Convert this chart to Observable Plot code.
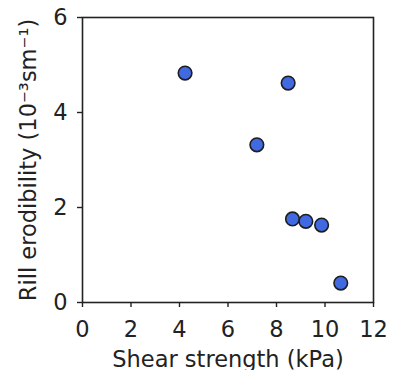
<!DOCTYPE html>
<html>
<head>
<meta charset="utf-8">
<script src="https://cdn.jsdelivr.net/npm/d3@7"></script>
<script src="https://cdn.jsdelivr.net/npm/@observablehq/plot@0.6"></script>
<style>
  html, body { margin: 0; padding: 0; background: #fff; }
  #chart svg { display: block; }
</style>
</head>
<body>
<div id="chart"></div>
<script>
const shearStrength = [4.23, 8.48, 7.19, 8.66, 9.21, 9.86, 10.65];
const rillErodibility = [4.83, 4.62, 3.32, 1.76, 1.71, 1.63, 0.41];
const xTicks = [0, 2, 4, 6, 8, 10, 12];
const yTicks = [0, 2, 4, 6];
const xLabel = "Shear strength (kPa)";
const yLabel = "Rill erodibility (10⁻³sm⁻¹)";

const data = shearStrength.map((x, i) => ({x, y: rillErodibility[i]}));

const chart = Plot.plot({
  width: 393,
  height: 370,
  marginLeft: 82,
  marginRight: 20,
  marginTop: 17,
  marginBottom: 68,
  style: {fontFamily: "DejaVu Sans", fontSize: "22.5px", color: "#222", background: "#fff"},
  x: {domain: [0, 12]},
  y: {domain: [0, 6]},
  marks: [
    Plot.frame({stroke: "#222", strokeWidth: 1.6}),
    Plot.axisX({ticks: xTicks, tickFormat: d => String(d), tickSize: 5, tickPadding: 14, stroke: "#222", strokeWidth: 1.4,
      label: xLabel, labelAnchor: "center", labelArrow: "none", labelOffset: 64, fontSize: 22.5}),
    Plot.axisY({ticks: yTicks, tickFormat: d => String(d), tickSize: 5, tickPadding: 10, stroke: "#222", strokeWidth: 1.4,
      label: yLabel, labelAnchor: "center", labelArrow: "none", labelOffset: 62, fontSize: 22.5}),
    Plot.dot(data, {x: "x", y: "y", r: 6.8, fill: "#4169E1", stroke: "#1e1e1e", strokeWidth: 1.6})
  ]
});
document.getElementById("chart").appendChild(chart);
</script>
</body>
</html>
